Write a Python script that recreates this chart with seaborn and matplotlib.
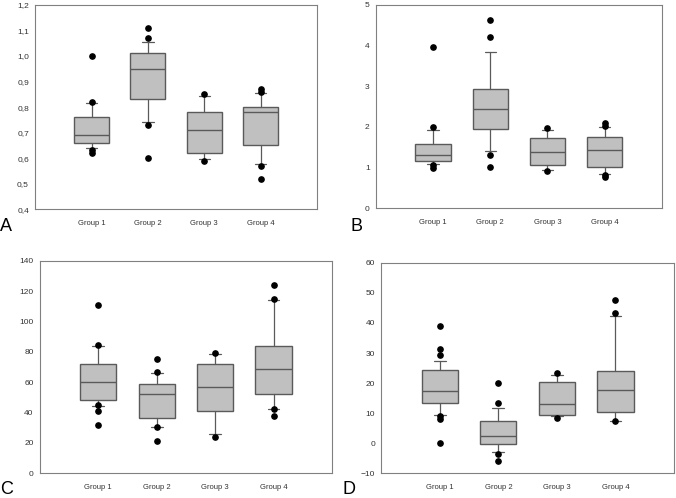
import seaborn as sns
import matplotlib.pyplot as plt

groups = ["Group 1", "Group 2", "Group 3", "Group 4"]

# panel A
a_q1 = [0.66, 0.83, 0.62, 0.65]
a_med = [0.69, 0.95, 0.71, 0.78]
a_q3 = [0.76, 1.01, 0.78, 0.80]
a_lo = [0.64, 0.74, 0.595, 0.578]
a_hi = [0.815, 1.055, 0.845, 0.855]
a_out = [[1.0, 0.82, 0.63, 0.62], [1.11, 1.07, 0.73, 0.60], [0.85, 0.59], [0.87, 0.86, 0.57, 0.52]]

# panel B
b_q1 = [1.15, 1.95, 1.06, 1.02]
b_med = [1.30, 2.45, 1.38, 1.44]
b_q3 = [1.58, 2.93, 1.72, 1.76]
b_lo = [1.08, 1.40, 0.93, 0.85]
b_hi = [1.93, 3.85, 1.93, 2.00]
b_out = [[3.96, 2.0, 1.05, 0.98], [4.62, 4.2, 1.32, 1.01], [1.97, 0.92], [2.10, 2.02, 0.82, 0.76]]

# panel C
c_q1 = [48, 36.5, 41, 52]
c_med = [60, 52, 57, 69]
c_q3 = [72, 59, 72, 84]
c_lo = [44, 30.5, 26, 42]
c_hi = [84, 66, 78.5, 114]
c_out = [[111, 84.5, 45, 41, 31.5], [75, 67, 30.5, 21], [79, 24], [124, 115, 42, 38]]

# panel D
d_q1 = [13.5, -0.3, 9.2, 10.3]
d_med = [17.2, 2.4, 12.9, 17.7]
d_q3 = [24.2, 7.5, 20.5, 24.0]
d_lo = [9.3, -3.0, 9.0, 7.5]
d_hi = [27.3, 11.8, 22.8, 42.3]
d_out = [[39, 31.5, 29.3, 9, 8, 0], [20, 13.2, -3.5, -6], [23.2, 8.3], [47.8, 43.3, 7.2]]

panels = [
    ("A", a_q1, a_med, a_q3, a_lo, a_hi, a_out, (0.4, 1.2), [0.4, 0.5, 0.6, 0.7, 0.8, 0.9, 1.0, 1.1, 1.2], True),
    ("B", b_q1, b_med, b_q3, b_lo, b_hi, b_out, (0, 5), [0, 1, 2, 3, 4, 5], False),
    ("C", c_q1, c_med, c_q3, c_lo, c_hi, c_out, (0, 140), [0, 20, 40, 60, 80, 100, 120, 140], False),
    ("D", d_q1, d_med, d_q3, d_lo, d_hi, d_out, (-10, 60), [-10, 0, 10, 20, 30, 40, 50, 60], False),
]

positions = {
    "A": [0.052, 0.580, 0.417, 0.410],
    "B": [0.556, 0.582, 0.423, 0.408],
    "C": [0.059, 0.050, 0.432, 0.426],
    "D": [0.564, 0.050, 0.433, 0.422],
}
letter_xy = {"A": (0.0, 0.529), "B": (0.519, 0.529), "C": (0.0, 0.0), "D": (0.507, 0.0)}

sns.set_style("white")
plt.rcParams["font.family"] = ["Liberation Sans", "DejaVu Sans"]

fig = plt.figure(figsize=(6.76, 4.98), dpi=100)
edge = "#5a5a5a"

for name, q1, med, q3, lo, hi, out, ylim, yt, comma in panels:
    ax = fig.add_axes(positions[name])
    stats = []
    for i, g in enumerate(groups):
        stats.append(dict(label=g, q1=q1[i], med=med[i], q3=q3[i],
                          whislo=lo[i], whishi=hi[i], fliers=out[i]))
    ax.bxp(stats, positions=[1, 2, 3, 4], widths=0.62, patch_artist=True,
           boxprops=dict(facecolor="#c0c0c0", edgecolor=edge, linewidth=1.0),
           medianprops=dict(color=edge, linewidth=1.0),
           whiskerprops=dict(color=edge, linewidth=0.9),
           capprops=dict(color=edge, linewidth=0.9),
           capwidths=0.2,
           flierprops=dict(marker="o", markerfacecolor="black", markeredgecolor="black",
                           markersize=3.8, linestyle="none"))
    ax.set_xlim(0, 5)
    ax.set_ylim(*ylim)
    ax.set_yticks(yt)
    if comma:
        ax.set_yticklabels([f"{v:.1f}".replace(".", ",") for v in yt])
    ax.set_xticks([1, 2, 3, 4])
    ax.set_xticklabels(groups)
    ax.tick_params(axis="both", labelsize=6, colors="#333333", length=2.5, width=0.6, pad=2)
    ax.tick_params(axis="x", labelsize=5.5, pad=5)
    for sp in ax.spines.values():
        sp.set_color("#808080")
        sp.set_linewidth(0.8)
    fig.text(*letter_xy[name], name, fontsize=13, color="black", ha="left", va="bottom")

plt.savefig("out.png", dpi=100)
